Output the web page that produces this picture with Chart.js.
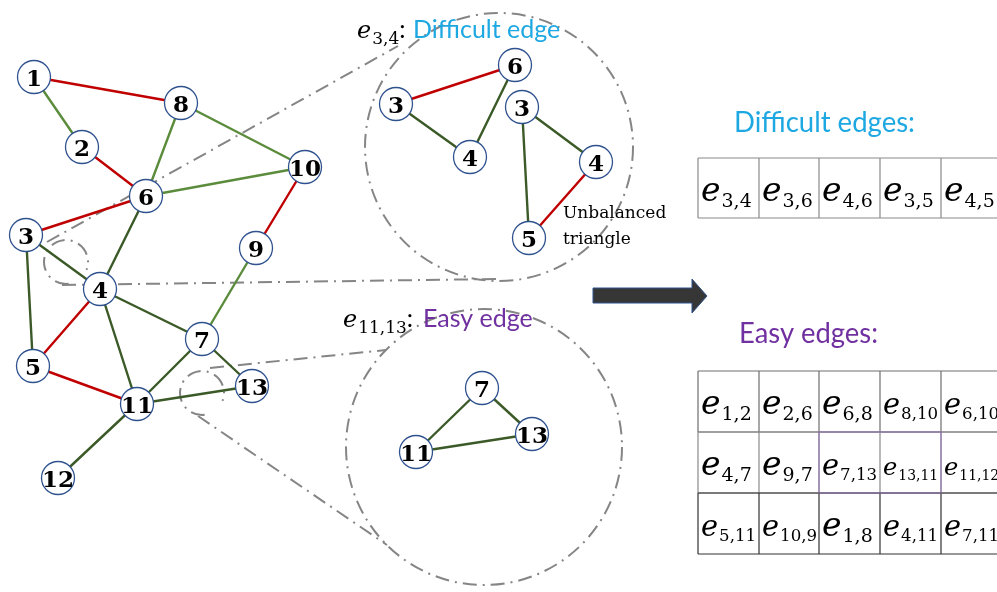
<!DOCTYPE html>
<html>
<head>
<meta charset="utf-8">
<script src="https://cdn.jsdelivr.net/npm/chart.js@4.4.1/dist/chart.umd.min.js"></script>
<style>
  body { margin: 0; background: #fff; }
  #wrap { width: 997px; height: 592px; position: relative; }
</style>
</head>
<body>
<div id="wrap"><canvas id="graph"></canvas></div>
<script>
// main signed graph
var nodeIds = ['1', '2', '3', '4', '5', '6', '7', '8', '9', '10', '11', '12', '13'];
var nodeX = [34, 82, 26, 100, 33, 146, 202, 181, 256, 305, 137, 58, 252];
var nodeY = [77, 147, 235, 289, 366, 196, 339, 103, 248, 167, 404, 478, 386];

var redEdges = [[1, 8], [2, 6], [10, 9], [3, 6], [4, 5], [5, 11]];
var lightGreenEdges = [[1, 2], [8, 6], [8, 10], [6, 10], [9, 7]];
var darkGreenEdges = [[3, 4], [3, 5], [6, 4], [4, 11], [4, 7], [7, 11], [7, 13], [11, 13], [11, 12]];

// zoomed-in triangles
var insetIds = ['6', '3', '4', '3', '4', '5', '7', '13', '11'];
var insetX = [515, 396, 470, 522, 596, 529, 482, 532, 416];
var insetY = [65, 104, 157, 107, 162, 238, 388, 434, 452];
var insetRedEdges = [[1, 0], [4, 5]];
var insetGreenEdges = [[1, 2], [2, 0], [3, 4], [3, 5], [6, 7], [7, 8], [6, 8]];

// dash-dot callout lines and circles
var calloutX = [47, 398, null, 62, 497, null, 210, 386, null, 198, 387];
var calloutY = [242, 46, null, 285, 279, null, 368, 350, null, 416, 545];
var circleX = [499, 484, 66, 202];
var circleY = [147, 447, 262, 393];
var circleR = [134, 138, 22, 22];

// edge tables
var difficultRows = [['3,4', '3,6', '4,6', '3,5', '4,5']];
var easyRows = [
    ['1,2', '2,6', '6,8', '8,10', '6,10'],
    ['4,7', '9,7', '7,13', '13,11', '11,12'],
    ['5,11', '10,9', '1,8', '4,11', '7,11']
];

var RED = '#C00000';
var LIGHT_GREEN = '#5B8C3C';
var DARK_GREEN = '#3B5A27';
var BLUE_TEXT = '#1EA8E2';
var PURPLE = '#7030A0';
var DASH = [14, 6, 2, 6];

function edgePoints(edges, ids, xs, ys) {
    var pts = [];
    edges.forEach(function (e) {
        pts.push({ x: xs[e[0]], y: ys[e[0]] });
        pts.push({ x: xs[e[1]], y: ys[e[1]] });
        pts.push({ x: null, y: null });
    });
    return pts;
}

function byId(edges) {
    return edges.map(function (e) { return [nodeIds.indexOf(String(e[0])), nodeIds.indexOf(String(e[1]))]; });
}

function zip(xs, ys) {
    return xs.map(function (x, i) { return x === null ? { x: null, y: null } : { x: x, y: ys[i] }; });
}

function lineSet(data, color, width, dash) {
    return {
        type: 'scatter', data: data, showLine: true, spanGaps: false, clip: false,
        borderColor: color, borderWidth: width, borderDash: dash || [],
        pointRadius: 0, pointHoverRadius: 0
    };
}

var nodeSet = {
    type: 'scatter',
    data: zip(nodeX, nodeY).concat(zip(insetX, insetY)),
    clip: false,
    pointRadius: 16.5,
    pointHoverRadius: 16.5,
    pointBackgroundColor: '#ffffff',
    pointBorderColor: '#2F528F',
    pointBorderWidth: 1.3
};

// draw italic "e" with a subscript, returns end x
function drawE(ctx, x, base, sub, eSize, subSize, maxW) {
    ctx.font = 'italic ' + eSize + 'px "DejaVu Serif"';
    var ew = ctx.measureText('e').width;
    ctx.font = subSize + 'px "DejaVu Serif"';
    var sw = ctx.measureText(sub).width;
    var k = 1;
    if (maxW && ew + sw + 1 > maxW) k = maxW / (ew + sw + 1);
    ctx.font = 'italic ' + (eSize * k) + 'px "DejaVu Serif"';
    ctx.fillText('e', x, base);
    ctx.font = (subSize * k) + 'px "DejaVu Serif"';
    ctx.fillText(sub, x + ew * k + 1, base + subSize * 0.33 * k);
    return x + (ew + sw + 1) * k;
}

var overlay = {
    id: 'overlay',
    beforeDatasetsDraw: function (chart) {
        var ctx = chart.ctx, sx = chart.scales.x, sy = chart.scales.y;
        ctx.save();
        ctx.strokeStyle = '#858585';
        ctx.lineWidth = 2;
        ctx.setLineDash(DASH);
        circleX.forEach(function (cx, i) {
            var px = sx.getPixelForValue(cx), py = sy.getPixelForValue(circleY[i]);
            var r = Math.abs(sx.getPixelForValue(circleR[i]) - sx.getPixelForValue(0));
            ctx.beginPath();
            if (r < 40) ctx.arc(px, py, r, 1.45, 1.45 + 5.2);
            else ctx.arc(px, py, r, 0, Math.PI * 2);
            ctx.stroke();
        });
        ctx.restore();
    },
    afterDatasetsDraw: function (chart) {
        var ctx = chart.ctx, sx = chart.scales.x, sy = chart.scales.y;
        var labels = nodeIds.concat(insetIds);
        var meta = chart.getDatasetMeta(0);
        ctx.save();
        ctx.fillStyle = '#000';
        ctx.textAlign = 'center';
        ctx.textBaseline = 'alphabetic';
        ctx.font = 'bold 23px "DejaVu Serif"';
        meta.data.forEach(function (pt, i) {
            ctx.fillText(labels[i], pt.x, pt.y + 8.5, 34);
        });

        // callout captions
        ctx.textAlign = 'left';
        var end = drawE(ctx, sx.getPixelForValue(357), sy.getPixelForValue(38), '3,4', 24, 17);
        ctx.font = '25px Lato';
        ctx.fillText(':', end, sy.getPixelForValue(38));
        ctx.fillStyle = BLUE_TEXT;
        ctx.fillText('Difficult edge', sx.getPixelForValue(413), sy.getPixelForValue(38), 161);
        ctx.fillStyle = '#000';
        end = drawE(ctx, sx.getPixelForValue(343), sy.getPixelForValue(327), '11,13', 24, 17);
        ctx.font = '25px Lato';
        ctx.fillText(':', end, sy.getPixelForValue(327));
        ctx.fillStyle = PURPLE;
        ctx.fillText('Easy edge', sx.getPixelForValue(423), sy.getPixelForValue(327), 120);

        ctx.fillStyle = '#000';
        ctx.font = '17px "DejaVu Serif"';
        ctx.fillText('Unbalanced', sx.getPixelForValue(563), sy.getPixelForValue(218));
        ctx.fillText('triangle', sx.getPixelForValue(563), sy.getPixelForValue(244));

        // arrow
        var ax = [593, 692, 692, 707, 692, 692, 593];
        var ay = [288, 288, 279, 296, 313, 303, 303];
        ctx.beginPath();
        ax.forEach(function (x, i) {
            var px = sx.getPixelForValue(x), py = sy.getPixelForValue(ay[i]);
            if (i === 0) ctx.moveTo(px, py); else ctx.lineTo(px, py);
        });
        ctx.closePath();
        ctx.fillStyle = '#363636';
        ctx.fill();
        ctx.strokeStyle = '#2F528F';
        ctx.lineWidth = 1;
        ctx.stroke();

        // table titles
        ctx.font = '29px Lato';
        ctx.fillStyle = BLUE_TEXT;
        ctx.fillText('Difficult edges:', sx.getPixelForValue(734), sy.getPixelForValue(132), 181);
        ctx.fillStyle = PURPLE;
        ctx.fillText('Easy edges:', sx.getPixelForValue(739), sy.getPixelForValue(343), 139);

        // tables
        var colEdges = [698, 759, 819, 880, 941, 1003];
        function drawTable(rows, top, rowH, lineColors) {
            rows.forEach(function (row, r) {
                var y0 = top + r * rowH;
                ctx.strokeStyle = lineColors[r];
                ctx.lineWidth = 1.2;
                ctx.beginPath();
                ctx.moveTo(sx.getPixelForValue(698), sy.getPixelForValue(y0));
                ctx.lineTo(sx.getPixelForValue(997), sy.getPixelForValue(y0));
                ctx.moveTo(sx.getPixelForValue(698), sy.getPixelForValue(y0 + rowH));
                ctx.lineTo(sx.getPixelForValue(997), sy.getPixelForValue(y0 + rowH));
                colEdges.slice(0, 5).forEach(function (cx) {
                    ctx.moveTo(sx.getPixelForValue(cx), sy.getPixelForValue(y0));
                    ctx.lineTo(sx.getPixelForValue(cx), sy.getPixelForValue(y0 + rowH));
                });
                ctx.stroke();
                ctx.fillStyle = '#000';
                row.forEach(function (sub, c) {
                    drawE(ctx, sx.getPixelForValue(colEdges[c] + 3), sy.getPixelForValue(y0 + 43), sub, 33, 19, 55);
                });
            });
        }
        drawTable(difficultRows, 158, 60, ['#8a8a8a']);
        drawTable(easyRows, 371, 61, ['#6e6e6e', '#8a8a8a', '#333333']);
        // purple cell outline in middle row
        ctx.strokeStyle = '#8e6fb0';
        ctx.lineWidth = 1;
        ctx.strokeRect(sx.getPixelForValue(819), sy.getPixelForValue(432), 122, 61);
        ctx.restore();
    }
};

var datasets = [
    nodeSet,
    lineSet(edgePoints(byId(redEdges), nodeIds, nodeX, nodeY), RED, 2.4),
    lineSet(edgePoints(byId(lightGreenEdges), nodeIds, nodeX, nodeY), LIGHT_GREEN, 2.4),
    lineSet(edgePoints(byId(darkGreenEdges), nodeIds, nodeX, nodeY), DARK_GREEN, 2.4),
    lineSet(edgePoints(insetRedEdges, insetIds, insetX, insetY), RED, 2.4),
    lineSet(edgePoints(insetGreenEdges, insetIds, insetX, insetY), DARK_GREEN, 2.4),
    lineSet(zip(calloutX, calloutY), '#858585', 2, DASH)
];

const graphChart = new Chart(document.getElementById('graph'), {
    type: 'scatter',
    data: { datasets: datasets },
    options: {
        responsive: true,
        maintainAspectRatio: false,
        animation: false,
        layout: { padding: 0, autoPadding: false },
        plugins: { legend: { display: false }, tooltip: { enabled: false } },
        events: [],
        scales: {
            x: { type: 'linear', min: 0, max: 997, display: false },
            y: { type: 'linear', min: 0, max: 592, reverse: true, display: false }
        }
    },
    plugins: [overlay]
});
</script>
</body>
</html>
